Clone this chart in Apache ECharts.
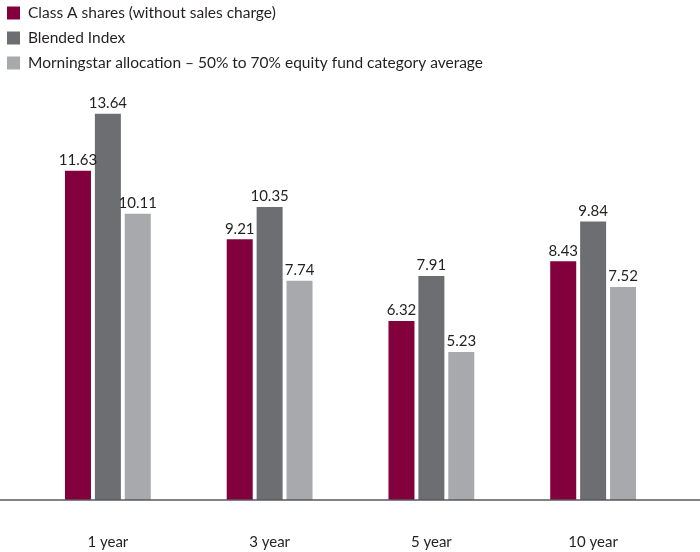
<!DOCTYPE html>
<html><head><meta charset="utf-8">
<script src="https://cdn.jsdelivr.net/npm/echarts@6/dist/echarts.min.js"></script>
<style>html,body{margin:0;padding:0;background:#fff}#c{width:700px;height:552px}</style>
</head><body><div id="c"></div>
<script>
const categories = ['1 year', '3 year', '5 year', '10 year'];
const seriesNames = ['Class A shares (without sales charge)', 'Blended Index', 'Morningstar allocation – 50% to 70% equity fund category average'];
const classA = [11.63, 9.21, 6.32, 8.43];
const blended = [13.64, 10.35, 7.91, 9.84];
const morningstar = [10.11, 7.74, 5.23, 7.52];
const colors = ['#82003c', '#6d6e71', '#a7a9ac'];
const FONT = 'Lato, sans-serif';

const chart = echarts.init(document.getElementById('c'));
const mk = (name, data, color) => ({
  name, type: 'bar', data, barWidth: 26, barGap: '15%',
  itemStyle: { color },
  label: { show: true, position: 'top', distance: 3, color: '#231f20', fontSize: 15, fontFamily: FONT, formatter: p => p.value.toFixed(2) }
});
chart.setOption({
  animation: false,
  legend: {
    orient: 'vertical', left: 2, top: 0, itemWidth: 13, itemHeight: 13, itemGap: 9,
    icon: 'rect', textStyle: { fontSize: 15.5, color: '#231f20', fontFamily: FONT, padding: [0, 0, 0, 3] },
    data: seriesNames
  },
  grid: { left: 27, right: 26, top: 47, bottom: 52 },
  xAxis: {
    type: 'category', data: categories,
    axisLine: { show: false }, axisTick: { show: false },
    axisLabel: { color: '#231f20', fontSize: 15, fontFamily: FONT, margin: 35 }
  },
  yAxis: { type: 'value', min: 0, max: 16, show: false, splitLine: { show: false } },
  graphic: [{ type: 'line', shape: { x1: 0, y1: 500, x2: 700, y2: 500 }, style: { stroke: '#58595b', lineWidth: 1.5 }, z: 10 }],
  series: [mk(seriesNames[0], classA, colors[0]), mk(seriesNames[1], blended, colors[1]), mk(seriesNames[2], morningstar, colors[2])]
});
</script></body></html>
